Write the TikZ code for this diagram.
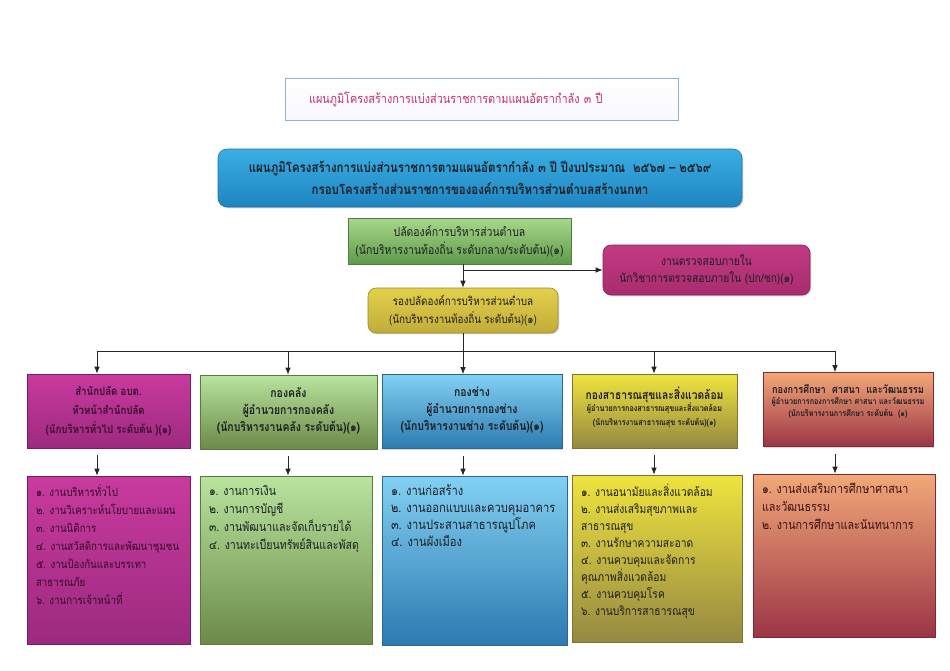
\documentclass[tikz,border=0pt]{standalone}
\usepackage{fontspec}
\setmainfont[Script=Thai,FakeStretch=0.85]{Loma}
\usetikzlibrary{arrows.meta,shadows,calc}
\definecolor{titletext}{HTML}{C2306A}
\definecolor{titleborder}{HTML}{8AB4D2}
\definecolor{txt}{HTML}{1E1E24}
\definecolor{headTop}{HTML}{3AAFE4}\definecolor{headMid}{HTML}{46B9EB}\definecolor{headBot}{HTML}{1F84C0}\definecolor{headBorder}{HTML}{236FA0}
\definecolor{paladTop}{HTML}{A8D88A}\definecolor{paladBot}{HTML}{5E9A4A}\definecolor{paladBorder}{HTML}{4E7E40}
\definecolor{auditTop}{HTML}{C23A84}\definecolor{auditMid}{HTML}{DE5AA0}\definecolor{auditBot}{HTML}{A82C6E}\definecolor{auditBorder}{HTML}{84205A}
\definecolor{depTop}{HTML}{E2D04A}\definecolor{depMid}{HTML}{F2E55C}\definecolor{depBot}{HTML}{C2AC3A}\definecolor{depBorder}{HTML}{9A882C}
\definecolor{pinkTop}{HTML}{C93A9E}\definecolor{pinkBot}{HTML}{9C2A80}\definecolor{pinkBorder}{HTML}{761C60}
\definecolor{greenTop}{HTML}{B8E49E}\definecolor{greenBot}{HTML}{6C8A48}\definecolor{greenBorder}{HTML}{5A7840}
\definecolor{blueTop}{HTML}{82D0F2}\definecolor{blueBot}{HTML}{2C7AB0}\definecolor{blueBorder}{HTML}{2A6890}
\definecolor{yelTop}{HTML}{EFE43E}\definecolor{yelBot}{HTML}{958842}\definecolor{yelBorder}{HTML}{7E7232}
\definecolor{orTop}{HTML}{F2A878}\definecolor{orMid}{HTML}{E47A58}\definecolor{orBot}{HTML}{9C3446}\definecolor{orBorder}{HTML}{7E2A36}
\newcommand{\mySmallFont}{\fontsize{8.5}{13}\selectfont}
\newcommand{\li}[1]{\mbox{#1}\\}
\begin{document}
\begin{tikzpicture}[x=1pt,y=-1pt,
  box/.style={draw, line width=0.6pt, inner sep=2pt, align=center, text=txt,
    drop shadow={opacity=0.3,shadow xshift=1.3pt,shadow yshift=-1.3pt}},
  midbox/.style={box, minimum height=74pt, font=\fontsize{12.3}{17}\selectfont\bfseries},
  listbox/.style={box, inner sep=9pt, align=left, font=\fontsize{12.5}{18}\selectfont},
  pinkc/.style={draw=pinkBorder, top color=pinkTop, bottom color=pinkBot},
  greenc/.style={draw=greenBorder, top color=greenTop, bottom color=greenBot},
  bluec/.style={draw=blueBorder, top color=blueTop, bottom color=blueBot},
  yelc/.style={draw=yelBorder, top color=yelTop, bottom color=yelBot},
  orc/.style={draw=orBorder, top color=orTop, middle color=orMid, bottom color=orBot},
  conn/.style={line width=0.8pt, draw=black!85},
  arr/.style={conn, -{Latex[length=7pt,width=5.5pt]}}]
\useasboundingbox (0,0) rectangle (950,670);
\fill[white] (0,0) rectangle (950,670);

% title
\node[box, minimum width=393pt, minimum height=42pt, draw=titleborder, line width=0.8pt,
  top color=white, bottom color=blue!3, text width=345pt, inner xsep=24pt, align=left,
  text=titletext, font=\fontsize{12.8}{14}\selectfont] (title) at (481.5,99)
  {แผนภูมิโครงสร้างการแบ่งส่วนราชการตามแผนอัตรากำลัง ๓ ปี};

% blue header
\node[box, rounded corners=9pt, minimum width=524pt, minimum height=58pt, draw=headBorder,
  top color=headTop, middle color=headMid, bottom color=headBot,
  font=\fontsize{13.5}{22}\selectfont\bfseries] (head) at (480,178)
  {แผนภูมิโครงสร้างการแบ่งส่วนราชการตามแผนอัตรากำลัง ๓ ปี ปีงบประมาณ~~๒๕๖๗ – ๒๕๖๙\\
   กรอบโครงสร้างส่วนราชการขององค์การบริหารส่วนตำบลสร้างนกทา};

% palad
\node[box, minimum width=223pt, minimum height=46pt, draw=paladBorder,
  top color=paladTop, bottom color=paladBot,
  font=\fontsize{12.3}{18}\selectfont] (palad) at (459.5,241)
  {ปลัดองค์การบริหารส่วนตำบล\\(นักบริหารงานท้องถิ่น ระดับกลาง/ระดับต้น)(๑)};

% audit
\node[box, rounded corners=8pt, minimum width=207pt, minimum height=50pt, draw=auditBorder,
  top color=auditTop, middle color=auditMid, bottom color=auditBot,
  font=\fontsize{12}{17}\selectfont] (audit) at (706.5,270)
  {งานตรวจสอบภายใน\\นักวิชาการตรวจสอบภายใน (ปก/ชก)(๑)};

% deputy
\node[box, rounded corners=8pt, minimum width=190pt, minimum height=45pt, draw=depBorder,
  top color=depTop, middle color=depMid, bottom color=depBot,
  font=\fontsize{11.6}{18}\selectfont] (dep) at (463,310.5)
  {รองปลัดองค์การบริหารส่วนตำบล\\(นักบริหารงานท้องถิ่น ระดับต้น)(๑)};

% middle row
\node[midbox, pinkc, minimum width=163pt, text=pinkBorder!50!black,
  font=\fontsize{11.4}{19}\selectfont\bfseries] (m1) at (108.5,411)
  {สำนักปลัด อบต.\\หัวหน้าสำนักปลัด\\(นักบริหารทั่วไป ระดับต้น )(๑)};
\node[midbox, greenc, minimum width=177pt] (m2) at (288.5,412)
  {กองคลัง\\ผู้อำนวยการกองคลัง\\(นักบริหารงานคลัง ระดับต้น)(๑)\rule[-5pt]{0pt}{0pt}};
\node[midbox, bluec, minimum width=180pt] (m3) at (472,411.5)
  {กองช่าง\\ผู้อำนวยการกองช่าง\\(นักบริหารงานช่าง ระดับต้น)(๑)\rule[-5pt]{0pt}{0pt}};
\node[midbox, yelc, minimum width=165pt] (m4) at (654.5,411)
  {{\fontsize{12.1}{14}\selectfont กองสาธารณสุขและสิ่งแวดล้อม}\\[-5pt]
   {\mySmallFont ผู้อำนวยการกองสาธารณสุขและสิ่งแวดล้อม}\\[-3pt]
   {\mySmallFont (นักบริหารงานสาธารณสุข ระดับต้น)(๑)}\rule[-9pt]{0pt}{0pt}};
\node[midbox, orc, minimum width=170pt] (m5) at (848,409.5)
  {{\fontsize{10.8}{14}\selectfont กองการศึกษา~~ศาสนา~~และวัฒนธรรม}\\[-6pt]
   {\mySmallFont ผู้อำนวยการกองการศึกษา ศาสนา และวัฒนธรรม}\\[-5pt]
   {\mySmallFont (นักบริหารงานการศึกษา ระดับต้น~~(๑)}\rule[-18pt]{0pt}{0pt}};

% bottom row
\node[listbox, pinkc, text=pinkBorder!45!black, font=\fontsize{11.5}{18}\selectfont] (b1) at (108.5,560)
  {\begin{minipage}[t][150pt][t]{145pt}\raggedright
   \li{๑. งานบริหารทั่วไป}\li{๒. งานวิเคราะห์นโยบายและแผน}\li{๓. งานนิติการ}\li{๔. งานสวัสดิการและพัฒนาชุมชน}\li{๕. งานป้องกันและบรรเทา}\li{สาธารณภัย}\mbox{๖. งานการเจ้าหน้าที่}
   \end{minipage}};
\node[listbox, greenc] (b2) at (286,560)
  {\begin{minipage}[t][150pt][t]{154pt}\raggedright
   \li{๑. งานการเงิน}\li{๒. งานการบัญชี}\li{๓. งานพัฒนาและจัดเก็บรายได้}\mbox{๔. งานทะเบียนทรัพย์สินและพัสดุ}
   \end{minipage}};
\node[listbox, bluec, font=\fontsize{13.1}{17}\selectfont] (b3) at (474.5,560.5)
  {\begin{minipage}[t][151pt][t]{167pt}\raggedright
   \li{๑. งานก่อสร้าง}\li{๒. งานออกแบบและควบคุมอาคาร}\li{๓. งานประสานสาธารณูปโภค}\mbox{๔. งานผังเมือง}
   \end{minipage}};
\node[listbox, yelc, font=\fontsize{12.1}{17}\selectfont] (b4) at (657,558.5)
  {\begin{minipage}[t][149pt][t]{152pt}\raggedright
   \li{๑. งานอนามัยและสิ่งแวดล้อม}\li{๒. งานส่งเสริมสุขภาพและ}\li{สาธารณสุข}\li{๓. งานรักษาความสะอาด}\li{๔. งานควบคุมและจัดการ}\li{คุณภาพสิ่งแวดล้อม}\li{๕. งานควบคุมโรค}\mbox{๖. งานบริการสาธารณสุข}
   \end{minipage}};
\node[listbox, orc, text=orBorder!45!black, font=\fontsize{12.7}{18}\selectfont] (b5) at (844,555.5)
  {\begin{minipage}[t][145pt][t]{164pt}\raggedright
   \li{๑. งานส่งเสริมการศึกษาศาสนา}\li{และวัฒนธรรม}\mbox{๒. งานการศึกษาและนันทนาการ}
   \end{minipage}};

% connectors
\coordinate (j) at (463,270);
\coordinate (bus) at (463,351);
\coordinate (t1) at (97,351);
\coordinate (t2) at (288,351);
\coordinate (t3) at (463,351);
\coordinate (t4) at (654,351);
\coordinate (t5) at (835,351);

\draw[arr] (dep.north |- palad.south) -- (dep.north);
\draw[arr] (j) -- (audit.west);
\draw[conn] (dep.south) -- (bus);
\draw[conn] (t1) -- (t5);
\foreach \i in {1,...,5}{
  \draw[arr] (t\i) -- (t\i |- m\i.north);
  \draw[arr] ($(t\i |- m\i.south)+(0,7)$) -- (t\i |- b\i.north);
}
\end{tikzpicture}
\end{document}
